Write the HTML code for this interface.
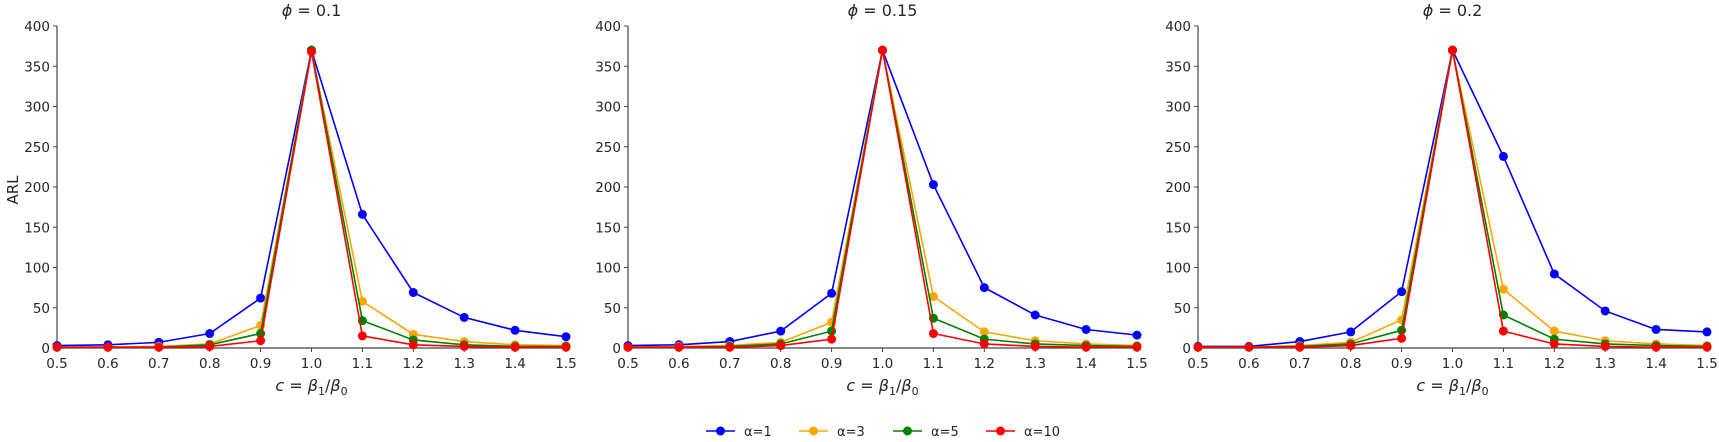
<!DOCTYPE html>
<html><head><meta charset="utf-8"><style>
body{margin:0;background:#fff;width:1719px;height:437px;overflow:hidden}
svg text{font-family:"DejaVu Sans","Liberation Sans",sans-serif;fill:#262626}
</style></head><body>
<svg id="s" width="1719" height="437" xmlns="http://www.w3.org/2000/svg"></svg>
<script>
const S=document.getElementById('s');let h='';
const panels=[
 {x0:57,t:'0.1',d:[[3,4,7,18,62,370,166,69,38,22,14],[1,1,2,5,28,370,58,17,8,4,3],[1,1,1,4,18,370,34,10,4,2,2],[1,1,1,2,9,368,15,4,2,1,1]]},
 {x0:628,t:'0.15',d:[[3,4,8,21,68,370,203,75,41,23,16],[1,2,3,7,32,370,64,20,9,5,3],[1,1,2,5,21,370,37,11,5,3,2],[1,1,1,3,11,370,18,5,2,1,1]]},
 {x0:1198,t:'0.2',d:[[2,2,8,20,70,370,238,92,46,23,20],[1,1,3,7,35,370,73,21,9,5,3],[1,1,2,5,22,370,41,11,5,3,2],[1,1,1,3,12,370,21,5,2,1,1]]}];
const cols=['#0000ff','#ffa500','#008000','#ff0000'];
const y0=348,k=0.805,w=509;
panels.forEach((p,pi)=>{
 const X=i=>p.x0+i*w/10, Y=v=>y0-v*k;
 h+=`<line x1="${p.x0}" y1="${Y(400)}" x2="${p.x0}" y2="${y0}" stroke="#444" stroke-width="1.2"/>`;
 h+=`<line x1="${p.x0}" y1="${y0}" x2="${p.x0+w}" y2="${y0}" stroke="#444" stroke-width="1.2"/>`;
 for(let v=0;v<=400;v+=50){h+=`<line x1="${p.x0-4}" x2="${p.x0}" y1="${Y(v)}" y2="${Y(v)}" stroke="#444"/><text x="${p.x0-7}" y="${Y(v)+5}" font-size="13.5" text-anchor="end">${v}</text>`;}
 for(let i=0;i<=10;i++){h+=`<line x1="${X(i)}" x2="${X(i)}" y1="${y0}" y2="${y0+4}" stroke="#444"/><text x="${X(i)}" y="${y0+20}" font-size="13.5" text-anchor="middle">${(0.5+i/10).toFixed(1)}</text>`;}
 h+=`<text x="${p.x0+w/2}" y="391" font-size="16" text-anchor="middle"><tspan font-style="italic">c</tspan> = <tspan font-style="italic">β</tspan><tspan font-size="11" dy="4">1</tspan><tspan dy="-4">/</tspan><tspan font-style="italic">β</tspan><tspan font-size="11" dy="4">0</tspan></text>`;
 h+=`<text x="${p.x0+w/2}" y="16" font-size="16" text-anchor="middle"><tspan font-style="italic">ϕ</tspan> = ${p.t}</text>`;
 p.d.forEach((s,si)=>{
  h+=`<polyline fill="none" stroke="${cols[si]}" stroke-width="1.6" points="${s.map((v,i)=>X(i)+','+Y(v)).join(' ')}"/>`;
  s.forEach((v,i)=>h+=`<circle cx="${X(i)}" cy="${Y(v)}" r="4.5" fill="${cols[si]}"/>`);
 });
});
h+=`<text transform="translate(18,190) rotate(-90)" font-size="15" text-anchor="middle">ARL</text>`;
const L=[[706,'α=1'],[799,'α=3'],[893,'α=5'],[986,'α=10']];
L.forEach((l,i)=>{h+=`<line x1="${l[0]}" x2="${l[0]+29}" y1="431" y2="431" stroke="${cols[i]}" stroke-width="1.6"/><circle cx="${l[0]+14.5}" cy="431" r="4.5" fill="${cols[i]}"/><text x="${l[0]+38}" y="436" font-size="13">${l[1]}</text>`;});
S.innerHTML=h;
</script>
</body></html>
